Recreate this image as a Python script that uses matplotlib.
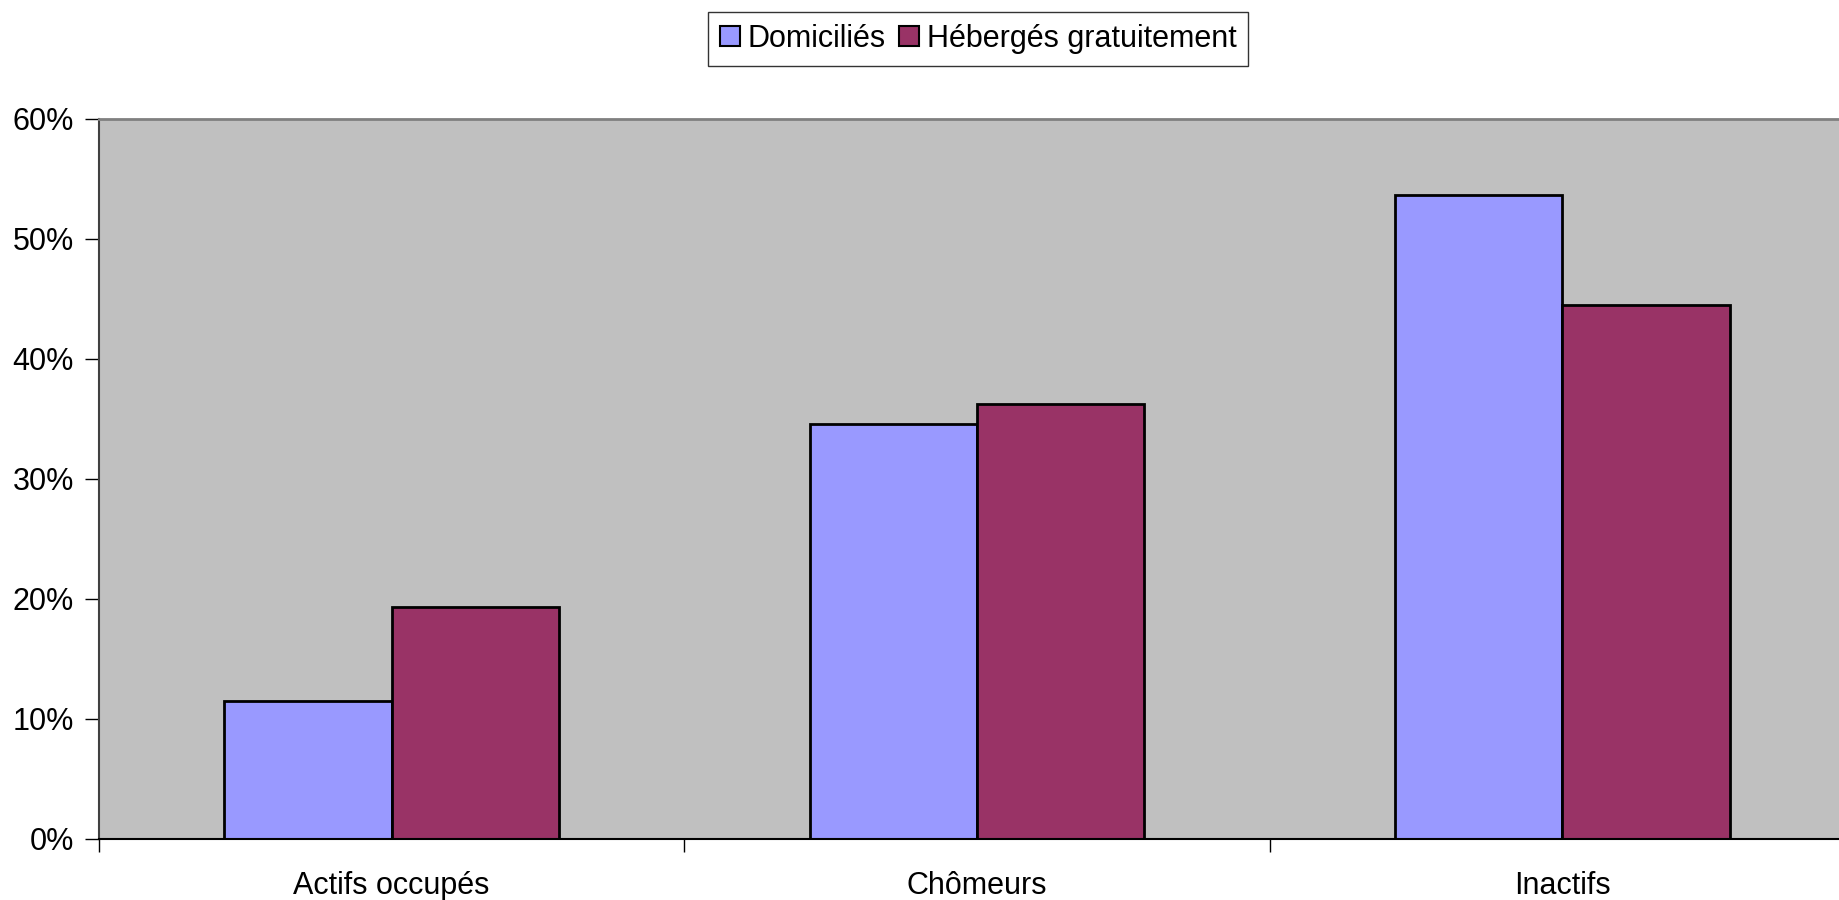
import matplotlib
matplotlib.use("Agg")
import matplotlib.pyplot as plt
import numpy as np
from matplotlib.patches import Patch

categories = ["Actifs occupés", "Chômeurs", "Inactifs"]
series_names = ["Domiciliés", "Hébergés gratuitement"]
domicilies = [11.5, 34.6, 53.7]
heberges = [19.3, 36.2, 44.5]
yticks = [0, 10, 20, 30, 40, 50, 60]

colors = ["#9999FF", "#993366"]

plt.rcParams['font.family'] = ['Liberation Sans', 'DejaVu Sans']

fig = plt.figure(figsize=(18.4, 9), dpi=100)
W, H = 1840, 900
left, right, top, bottom = 99, 1855, 119, 838.7
ax = fig.add_axes([left / W, 1 - bottom / H, (right - left) / W, (bottom - top) / H])
ax.set_facecolor("#C0C0C0")

x = np.arange(len(categories))
w = 0.286
ax.bar(x - w / 2, domicilies, w, color=colors[0], edgecolor="black", linewidth=2)
ax.bar(x + w / 2, heberges, w, color=colors[1], edgecolor="black", linewidth=2)

ax.set_xlim(-0.5, len(categories) - 0.5)
ax.set_ylim(0, 60)
ax.set_yticks(yticks)
ax.set_yticklabels([f"{v}%" for v in yticks], fontsize=22)
ax.set_xticks(np.arange(len(categories) + 1) - 0.5)
ax.set_xticklabels([])
ax.set_xticks(x, minor=True)
ax.set_xticklabels(categories, minor=True, fontsize=22)
ax.tick_params(axis='x', which='minor', length=0, pad=23)
ax.tick_params(axis='x', which='major', length=9, width=1, color='black', direction='out')
ax.tick_params(axis='y', length=10, width=1, color='black', direction='out', pad=8)

ax.spines['left'].set_color('#404040')
ax.spines['left'].set_linewidth(1.5)
ax.spines['bottom'].set_color('black')
ax.spines['bottom'].set_linewidth(1.5)
ax.spines['top'].set_color('#808080')
ax.spines['top'].set_linewidth(2)
ax.spines['right'].set_visible(False)

handles = [Patch(facecolor=colors[i], edgecolor='black', linewidth=1.5, label=series_names[i]) for i in range(2)]
leg = fig.legend(handles=handles, loc='center', bbox_to_anchor=(978 / W, 1 - 39 / H), ncol=2,
                 fontsize=22, frameon=True, fancybox=False, edgecolor='black', handlelength=0.65,
                 handleheight=0.65, handletextpad=0.25, columnspacing=0.45, borderpad=0.38, borderaxespad=0)
leg.get_frame().set_linewidth(1)

fig.savefig("out.png", dpi=100)
